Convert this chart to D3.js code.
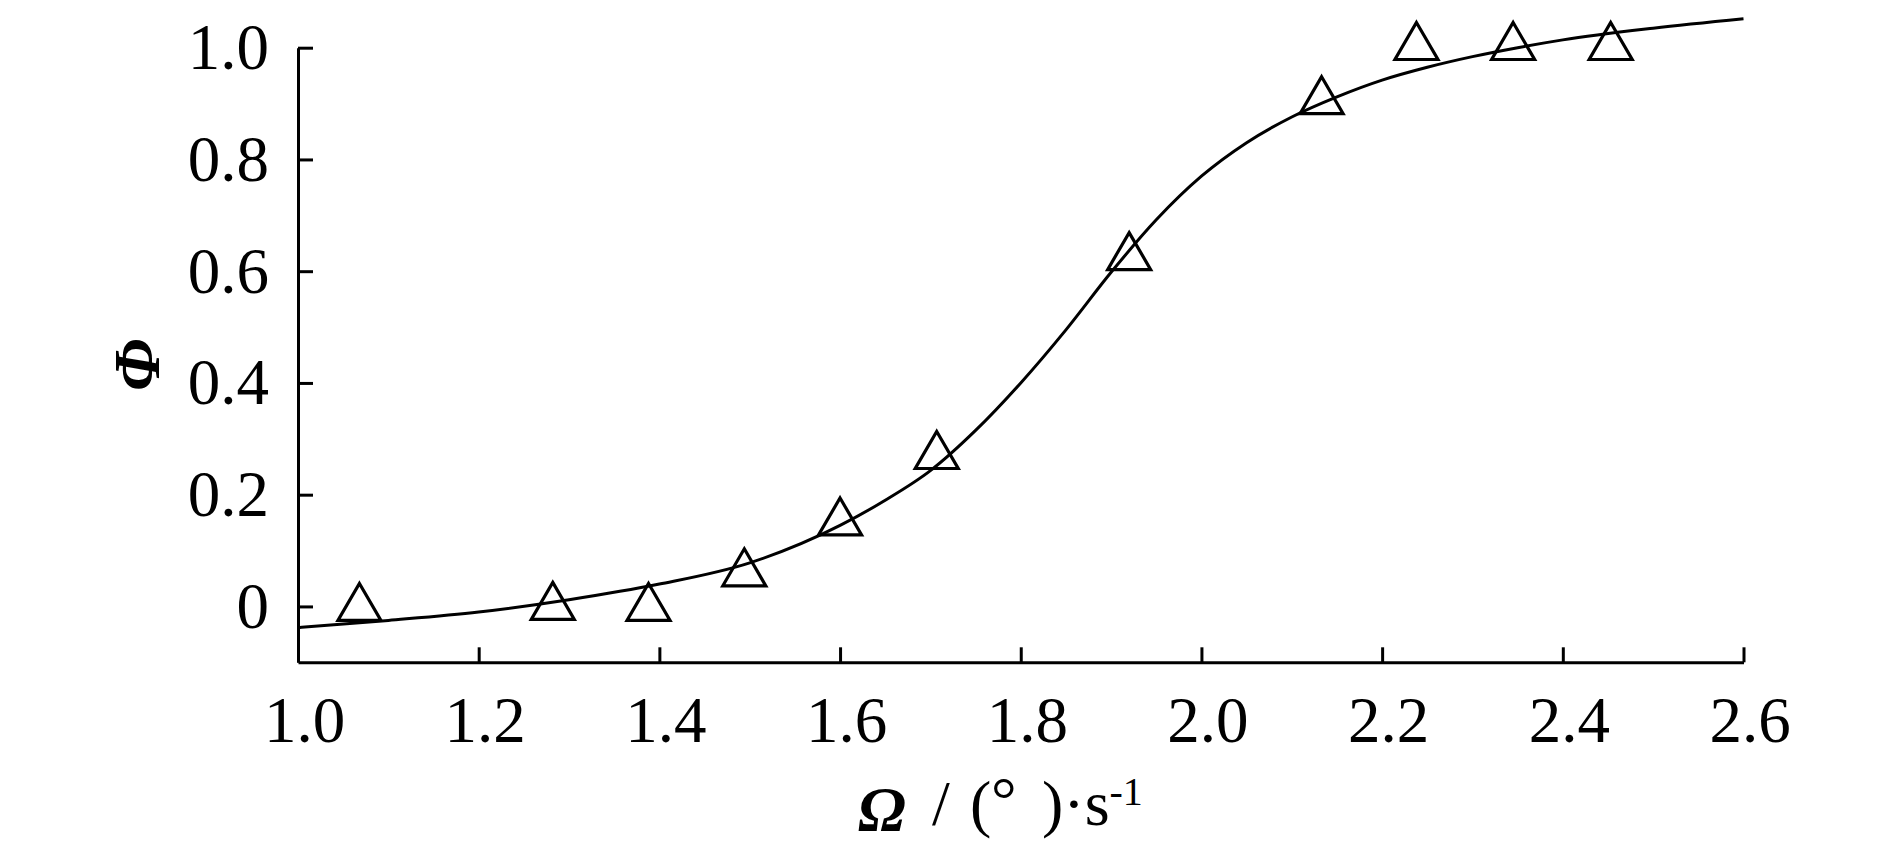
<!DOCTYPE html>
<html>
<head>
<meta charset="utf-8">
<script src="https://cdn.jsdelivr.net/npm/d3@7"></script>
<style>
  body { margin: 0; background: #fff; }
  svg text { font-family: "Liberation Serif", "Times New Roman", serif; fill: #000; }
</style>
</head>
<body>
<div id="chart"></div>
<script>
// measured points (open triangles)
var omega = [1.068, 1.282, 1.388, 1.494, 1.600, 1.707, 1.920, 2.133, 2.238, 2.345, 2.453];
var phi   = [0.008, 0.01, 0.008, 0.07, 0.161, 0.280, 0.636, 0.915, 1.012, 1.012, 1.012];

// fitted curve
var fitX = [1.0, 1.1, 1.2, 1.3, 1.4, 1.5, 1.6, 1.65, 1.7, 1.75, 1.8, 1.85, 1.9, 1.95, 2.0, 2.05, 2.1, 2.15, 2.2, 2.25, 2.3, 2.35, 2.4, 2.5, 2.6];
var fitY = [-0.038, -0.025, -0.01, 0.012, 0.04, 0.078, 0.145, 0.19, 0.243, 0.315, 0.40, 0.495, 0.598, 0.692, 0.77, 0.83, 0.876, 0.912, 0.942, 0.965, 0.984, 1.0, 1.014, 1.035, 1.052];

var xTicks = [1.0, 1.2, 1.4, 1.6, 1.8, 2.0, 2.2, 2.4, 2.6];
var yTicks = [0, 0.2, 0.4, 0.6, 0.8, 1.0];

var W = 1890, H = 850;
var svg = d3.select("#chart").append("svg")
    .attr("width", W)
    .attr("height", H);

var x = d3.scaleLinear().domain([1.0, 2.6]).range([298, 1743.5]);
var y = d3.scaleLinear().domain([-0.1, 1.0]).range([662.3, 47.7]);

// x axis, ticks pointing in
svg.append("g")
    .attr("class", "xaxis")
    .attr("transform", "translate(0," + y(-0.1) + ")")
    .call(d3.axisBottom(x).tickValues(xTicks).tickSizeInner(-15).tickSizeOuter(0).tickPadding(34)
      .tickFormat(d3.format(".1f")));

// y axis
svg.append("g")
    .attr("class", "yaxis")
    .attr("transform", "translate(" + x(1.0) + ",0)")
    .call(d3.axisLeft(y).tickValues(yTicks).tickSizeInner(-15).tickSizeOuter(0).tickPadding(29)
      .tickFormat(function(d) { return d == 0 ? "0" : d3.format(".1f")(d); }));

svg.selectAll(".domain, .tick line")
    .attr("stroke", "#000")
    .attr("stroke-width", 3);
svg.selectAll(".tick text")
    .style("font-size", "65px")
    .style("font-family", "'Liberation Serif', serif");
svg.selectAll(".xaxis .tick text").attr("dx", 6);

// fitted line
var line = d3.line()
    .x(function(d, i) { return x(fitX[i]); })
    .y(function(d) { return y(d); })
    .curve(d3.curveMonotoneX);

svg.append("path")
    .datum(fitY)
    .attr("fill", "none")
    .attr("stroke", "#000")
    .attr("stroke-width", 3)
    .attr("d", line);

// open triangles, centred on their box
var triW = 43, triH = 37;
svg.selectAll(".tri")
    .data(omega)
    .enter()
    .append("path")
    .attr("class", "tri")
    .attr("fill", "none")
    .attr("stroke", "#000")
    .attr("stroke-width", 3.2)
    .attr("d", function(d, i) {
      var cx = x(d), cy = y(phi[i]);
      return "M" + cx + "," + (cy - triH / 2) +
             "L" + (cx + triW / 2) + "," + (cy + triH / 2) +
             "L" + (cx - triW / 2) + "," + (cy + triH / 2) + "Z";
    });

// axis titles
svg.append("text")
    .attr("transform", "translate(135.5,365) rotate(-90)")
    .attr("text-anchor", "middle")
    .attr("dy", "0.35em")
    .style("font-size", "66px")
    .style("font-style", "italic")
    .style("font-weight", "bold")
    .text("Φ");

var xt = svg.append("text")
    .attr("y", 825)
    .style("font-size", "64px");
xt.append("tspan").attr("x", 858).attr("dy", 6).style("font-style", "italic").style("font-weight", "bold").text("Ω");
xt.append("tspan").attr("x", 932).attr("dy", -6).text("/");
xt.append("tspan").attr("x", 970).text("(");
xt.append("tspan").attr("x", 991).attr("dy", -4).text("°");
xt.append("tspan").attr("x", 1042).attr("dy", 4).text(")·s");
xt.append("tspan").attr("dy", -20).style("font-size", "40px").text("-1");
</script>
</body>
</html>
